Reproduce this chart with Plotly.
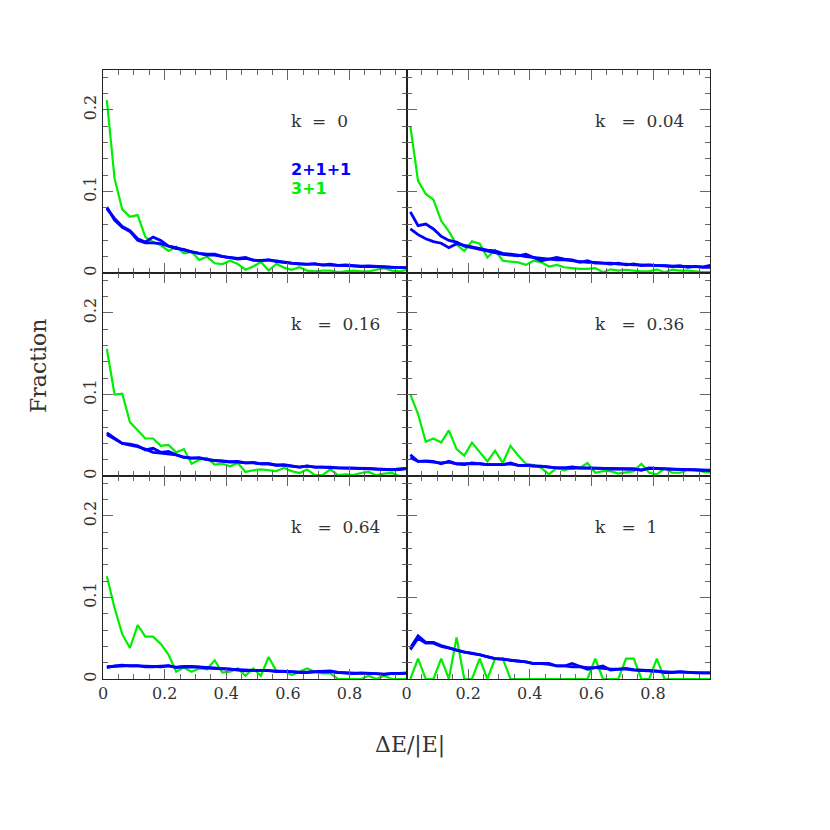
import plotly.graph_objects as go

# bin centres of dE/|E| (bin width 0.025)
x_bins = [0.0125 + 0.025 * i for i in range(40)]

k_labels = ["0", "0.04", "0.16", "0.36", "0.64", "1"]

# 3+1 (green) fractions per panel
g_k0 = [0.212, 0.116, 0.078, 0.069, 0.071, 0.044, 0.038, 0.034, 0.027, 0.032,
        0.024, 0.026, 0.016, 0.020, 0.012, 0.011, 0.015, 0.011, 0.004, 0.008,
        0.0135, 0.003, 0.011, 0.0066, 0.004, 0.007, 0.003, 0.002, 0.003, 0.003,
        0.001, 0.002, 0.003, 0.002, 0.002, 0.004, 0.006, 0.003, 0.002, 0.004]
g_k004 = [0.180, 0.113, 0.097, 0.090, 0.064, 0.051, 0.035, 0.027, 0.039, 0.036,
          0.019, 0.028, 0.015, 0.014, 0.013, 0.010, 0.015, 0.013, 0.008, 0.010,
          0.007, 0.006, 0.005, 0.005, 0.006, 0.001, 0.0045, 0.003, 0.004, 0.003,
          0.002, 0.002, 0.0045, 0.001, 0.004, 0.003, 0.003, 0.002, 0.001, 0.001]
g_k016 = [0.156, 0.100, 0.101, 0.066, 0.056, 0.046, 0.046, 0.037, 0.038, 0.029,
          0.033, 0.015, 0.020, 0.022, 0.014, 0.015, 0.012, 0.016, 0.005, 0.007,
          0.008, 0.007, 0.006, 0.010, 0.006, 0.0037, 0.008, 0.001, 0.001, 0.008,
          0.001, 0.002, 0.001, 0.0037, 0.005, 0.001, 0.003, 0.0037, 0.0, 0.0]
g_k036 = [0.100, 0.076, 0.042, 0.046, 0.041, 0.056, 0.033, 0.025, 0.041, 0.029,
          0.018, 0.031, 0.016, 0.037, 0.025, 0.015, 0.0135, 0.010, 0.002, 0.010,
          0.007, 0.010, 0.010, 0.016, 0.004, 0.006, 0.006, 0.003, 0.0045, 0.006,
          0.015, 0.004, 0.002, 0.0094, 0.004, 0.004, 0.007, 0.0078, 0.0053, 0.004]
g_k064 = [0.126, 0.087, 0.055, 0.038, 0.066, 0.052, 0.052, 0.043, 0.030, 0.009,
          0.014, 0.009, 0.013, 0.012, 0.023, 0.008, 0.009, 0.013, 0.004, 0.013,
          0.004, 0.027, 0.010, 0.010, 0.005, 0.009, 0.013, 0.009, 0.007, 0.007,
          0.0, 0.0, 0.0, 0.0, 0.004, 0.0, 0.004, 0.0, 0.0, 0.0]
g_k1 = [0.0, 0.025, 0.0, 0.0, 0.025, 0.0, 0.051, 0.0, 0.0, 0.025,
        0.0, 0.025, 0.025, 0.0, 0.0, 0.0, 0.0, 0.0, 0.0, 0.0,
        0.0, 0.0, 0.0, 0.0, 0.025, 0.0, 0.0, 0.0, 0.025, 0.025,
        0.0, 0.0, 0.025, 0.0, 0.0, 0.0, 0.0, 0.0, 0.0, 0.0]

# 2+1+1 (blue) fractions per panel, two runs each
b1_k0 = [0.079, 0.067, 0.057, 0.052, 0.042, 0.038, 0.044, 0.040, 0.033, 0.030,
         0.029, 0.026, 0.024, 0.023, 0.023, 0.0205, 0.019, 0.018, 0.019, 0.0156,
         0.0156, 0.016, 0.015, 0.0135, 0.012, 0.0115, 0.0107, 0.0115, 0.0098, 0.0107,
         0.0094, 0.0098, 0.009, 0.008, 0.0086, 0.008, 0.0074, 0.007, 0.0066, 0.0066]
b2_k0 = [0.081, 0.065, 0.056, 0.051, 0.040, 0.037, 0.037, 0.036, 0.033, 0.031,
         0.028, 0.026, 0.024, 0.022, 0.022, 0.020, 0.019, 0.017, 0.018, 0.016,
         0.015, 0.016, 0.014, 0.013, 0.012, 0.011, 0.011, 0.011, 0.010, 0.010,
         0.0094, 0.009, 0.009, 0.0085, 0.008, 0.008, 0.0075, 0.007, 0.007, 0.0065]
b1_k004 = [0.075, 0.058, 0.060, 0.054, 0.045, 0.040, 0.038, 0.033, 0.031, 0.029,
           0.027, 0.025, 0.023, 0.022, 0.021, 0.023, 0.019, 0.015, 0.017, 0.019,
           0.017, 0.016, 0.013, 0.015, 0.012, 0.012, 0.011, 0.012, 0.010, 0.011,
           0.009, 0.010, 0.009, 0.009, 0.008, 0.009, 0.007, 0.008, 0.007, 0.007]
b2_k004 = [0.054, 0.047, 0.042, 0.0385, 0.0365, 0.031, 0.036, 0.034, 0.032, 0.030,
           0.028, 0.027, 0.024, 0.023, 0.022, 0.020, 0.019, 0.018, 0.017, 0.016,
           0.016, 0.015, 0.014, 0.013, 0.013, 0.012, 0.012, 0.011, 0.011, 0.010,
           0.010, 0.0095, 0.009, 0.009, 0.0085, 0.008, 0.008, 0.0075, 0.0075, 0.0095]
b1_k016 = [0.053, 0.047, 0.040, 0.039, 0.037, 0.032, 0.034, 0.029, 0.030, 0.026,
           0.023, 0.022, 0.0225, 0.0205, 0.019, 0.0185, 0.0176, 0.018, 0.016, 0.0168,
           0.015, 0.015, 0.0135, 0.014, 0.0127, 0.011, 0.0123, 0.011, 0.011, 0.011,
           0.010, 0.010, 0.010, 0.0094, 0.0094, 0.0086, 0.0078, 0.0078, 0.0086, 0.0094]
b2_k016 = [0.051, 0.046, 0.040, 0.038, 0.036, 0.033, 0.029, 0.028, 0.027, 0.026,
           0.023, 0.022, 0.022, 0.020, 0.019, 0.018, 0.017, 0.017, 0.016, 0.016,
           0.015, 0.015, 0.013, 0.013, 0.012, 0.011, 0.012, 0.011, 0.011, 0.010,
           0.010, 0.010, 0.0095, 0.009, 0.009, 0.0085, 0.008, 0.0075, 0.008, 0.009]
b1_k036 = [0.026, 0.018, 0.0185, 0.018, 0.015, 0.018, 0.015, 0.014, 0.016, 0.015,
           0.014, 0.014, 0.014, 0.016, 0.013, 0.013, 0.012, 0.0118, 0.011, 0.010,
           0.010, 0.011, 0.010, 0.010, 0.0094, 0.0094, 0.0086, 0.0086, 0.0094, 0.0086,
           0.007, 0.010, 0.0094, 0.0086, 0.0086, 0.0078, 0.0078, 0.007, 0.007, 0.007]
b2_k036 = [0.0225, 0.018, 0.018, 0.017, 0.016, 0.017, 0.015, 0.015, 0.015, 0.015,
           0.014, 0.014, 0.014, 0.015, 0.013, 0.013, 0.012, 0.012, 0.011, 0.010,
           0.010, 0.0094, 0.010, 0.0098, 0.0094, 0.009, 0.0086, 0.0086, 0.009, 0.0086,
           0.0075, 0.0094, 0.009, 0.0086, 0.0084, 0.008, 0.0078, 0.0072, 0.007, 0.007]
b1_k064 = [0.014, 0.016, 0.017, 0.016, 0.0165, 0.015, 0.015, 0.0156, 0.0165, 0.014,
           0.0156, 0.0156, 0.015, 0.014, 0.013, 0.013, 0.012, 0.011, 0.010, 0.0107,
           0.0107, 0.0107, 0.009, 0.009, 0.009, 0.008, 0.008, 0.009, 0.009, 0.0098,
           0.008, 0.0074, 0.0066, 0.0074, 0.0074, 0.0066, 0.0057, 0.007, 0.007, 0.0074]
b2_k064 = [0.015, 0.0155, 0.016, 0.0165, 0.016, 0.0155, 0.015, 0.015, 0.016, 0.0145,
           0.015, 0.015, 0.0145, 0.0135, 0.013, 0.0125, 0.012, 0.011, 0.0105, 0.0105,
           0.0105, 0.010, 0.0095, 0.009, 0.009, 0.0085, 0.0085, 0.0085, 0.0085, 0.009,
           0.008, 0.0075, 0.007, 0.007, 0.007, 0.0065, 0.006, 0.0065, 0.007, 0.007]
b1_k1 = [0.038, 0.053, 0.045, 0.045, 0.041, 0.0385, 0.036, 0.033, 0.0316, 0.030,
         0.0275, 0.025, 0.0246, 0.023, 0.022, 0.021, 0.019, 0.019, 0.019, 0.016,
         0.016, 0.019, 0.015, 0.012, 0.014, 0.016, 0.011, 0.012, 0.013, 0.0115,
         0.0107, 0.0098, 0.0098, 0.008, 0.008, 0.009, 0.008, 0.0074, 0.0074, 0.0074]
b2_k1 = [0.036, 0.050, 0.044, 0.044, 0.040, 0.038, 0.035, 0.033, 0.031, 0.030,
         0.027, 0.025, 0.024, 0.023, 0.022, 0.021, 0.019, 0.019, 0.018, 0.016,
         0.016, 0.015, 0.015, 0.014, 0.014, 0.013, 0.012, 0.012, 0.012, 0.011,
         0.0105, 0.010, 0.0095, 0.0085, 0.0085, 0.0085, 0.008, 0.0075, 0.0075, 0.0075]

green = [g_k0, g_k004, g_k016, g_k036, g_k064, g_k1]
blue1 = [b1_k0, b1_k004, b1_k016, b1_k036, b1_k064, b1_k1]
blue2 = [b2_k0, b2_k004, b2_k016, b2_k036, b2_k064, b2_k1]

GREEN = "#00ee00"
BLUE = "#0000ff"
TXT = "#333333"
SERIF = "DejaVu Serif"

fig = go.Figure()
# page body adds an 8px offset, so positions are shifted back by 8
OFF = 8
W, H = 830, 830
L, R, T, B = 103 - OFF, 710 - OFF, 70 - OFF, 679 - OFF
xsplit = 406.5 - OFF

for p in range(6):
    n = p + 1
    sfx = "" if n == 1 else str(n)
    xa, ya = "x" + sfx, "y" + sfx
    fig.add_trace(go.Scatter(x=x_bins, y=green[p], mode="lines", xaxis=xa, yaxis=ya,
                             line=dict(color=GREEN, width=2.2), showlegend=False))
    fig.add_trace(go.Scatter(x=x_bins, y=blue2[p], mode="lines", xaxis=xa, yaxis=ya,
                             line=dict(color=BLUE, width=2.8), showlegend=False))
    fig.add_trace(go.Scatter(x=x_bins, y=blue1[p], mode="lines", xaxis=xa, yaxis=ya,
                             line=dict(color=BLUE, width=2.8), showlegend=False))

layout = {}
for p in range(6):
    n = p + 1
    row, col = p // 2, p % 2
    sfx = "" if n == 1 else str(n)
    x0 = (L if col == 0 else xsplit) - L
    x1 = (xsplit if col == 0 else R) - L
    pw = R - L
    ph = B - T
    rh = ph / 3
    ytop = T + row * rh
    ybot = ytop + rh
    bottom_row = row == 2
    left_col = col == 0
    layout["xaxis" + sfx] = dict(
        domain=[x0 / pw, x1 / pw], anchor="y" + sfx,
        range=[0, 0.985], tickvals=[0, 0.2, 0.4, 0.6, 0.8],
        ticktext=["0", "0.2", "0.4", "0.6", "0.8"],
        showticklabels=bottom_row, ticks="inside", ticklen=10, tickcolor="#666",
        minor=dict(dtick=0.05, tick0=0, ticks="inside", ticklen=5, tickcolor="#666"),
        showline=True, linecolor="#222", linewidth=1, mirror="ticks",
        showgrid=False, zeroline=False,
        tickfont=dict(family=SERIF, size=16, color=TXT),
    )
    layout["yaxis" + sfx] = dict(
        domain=[(B - ybot) / ph, (B - ytop) / ph], anchor="x" + sfx,
        range=[0, 0.249], tickvals=[0, 0.1, 0.2], ticktext=["0", "0.1", "0.2"],
        showticklabels=left_col, ticks="inside", ticklen=10, tickcolor="#666",
        minor=dict(dtick=0.02, tick0=0, ticks="inside", ticklen=5, tickcolor="#666"),
        showline=True, linecolor="#222", linewidth=1, mirror="ticks",
        showgrid=False, zeroline=False, tickangle=-90,
        tickfont=dict(family=SERIF, size=16, color=TXT),
    )

annotations = []
nb = "\u00a0"
for p in range(6):
    n = p + 1
    sfx = "" if n == 1 else str(n)
    gap = nb * 2 if p == 0 else nb * 3
    annotations.append(dict(
        x=0.605, y=0.186, xref="x" + sfx, yref="y" + sfx,
        text="k" + gap + "=" + nb * 2 + k_labels[p], showarrow=False,
        xanchor="left", yanchor="middle",
        font=dict(family=SERIF, size=17, color=TXT)))

annotations.append(dict(x=0.605, y=0.127, xref="x", yref="y", text="<b>2+1+1</b>",
                        showarrow=False, xanchor="left", yanchor="middle",
                        font=dict(family="DejaVu Sans", size=16, color=BLUE)))
annotations.append(dict(x=0.605, y=0.104, xref="x", yref="y", text="<b>3+1</b>",
                        showarrow=False, xanchor="left", yanchor="middle",
                        font=dict(family="DejaVu Sans", size=16, color=GREEN)))

annotations.append(dict(x=(410 - OFF - L) / (R - L), y=(B - (745 - OFF)) / (B - T),
                        xref="paper", yref="paper",
                        text="ΔE/|E|", showarrow=False, xanchor="center", yanchor="middle",
                        font=dict(family=SERIF, size=22, color=TXT)))
annotations.append(dict(x=(38 - OFF - L) / (R - L), y=(B - (366 - OFF)) / (B - T),
                        xref="paper", yref="paper",
                        text="Fraction", showarrow=False, textangle=-90,
                        xanchor="center", yanchor="middle",
                        font=dict(family=SERIF, size=22, color=TXT)))

fig.update_layout(
    width=W, height=H,
    margin=dict(l=L, r=W - R, t=T, b=H - B),
    paper_bgcolor="white", plot_bgcolor="white",
    showlegend=False, annotations=annotations,
    **layout,
)

fig.write_html("out.html")
